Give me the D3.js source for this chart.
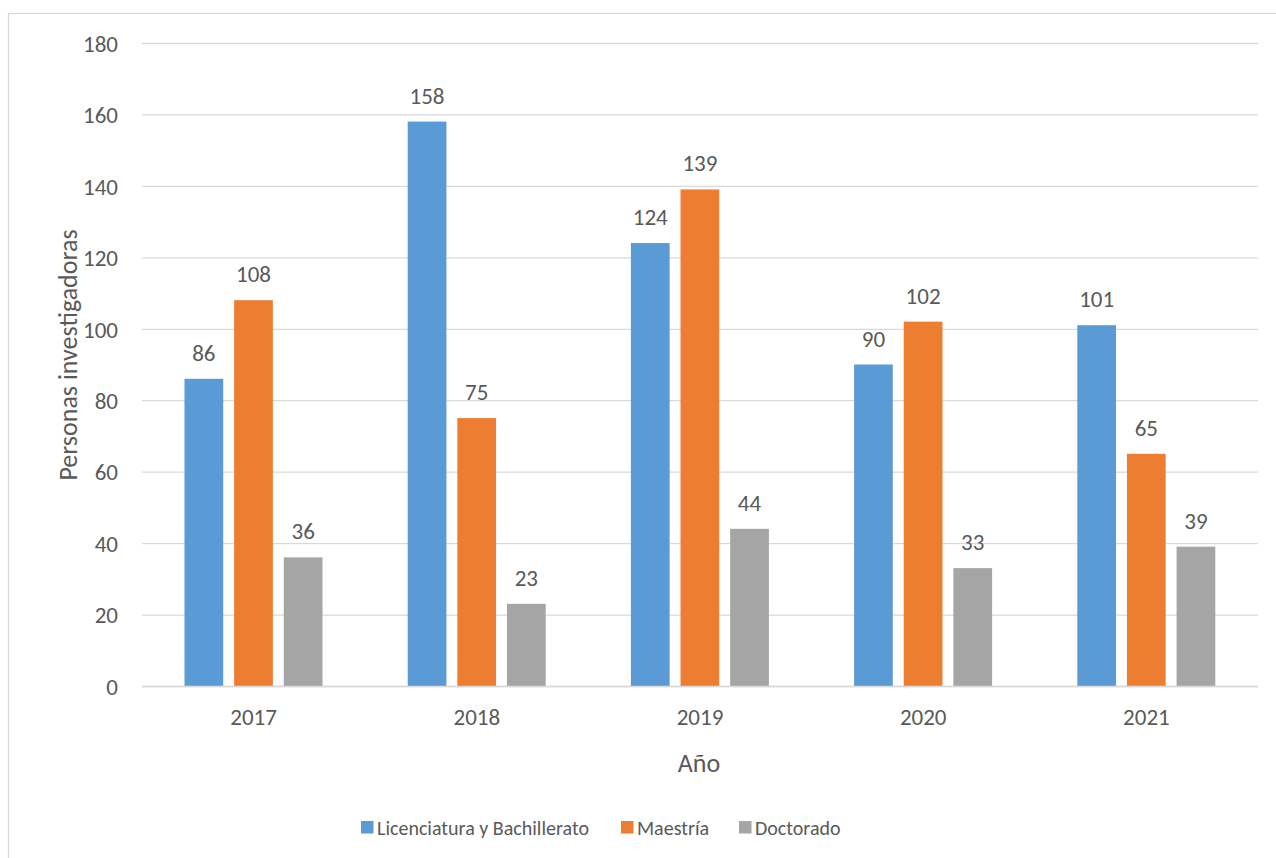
<!DOCTYPE html>
<html><head><meta charset="utf-8">
<script src="https://cdn.jsdelivr.net/npm/d3@7"></script>
<style>
html,body{margin:0;padding:0;background:#fff;}
text{font-family:Calibri,Carlito,Lato,"Open Sans",sans-serif;fill:#595959;}
</style></head>
<body>
<svg id="chart" width="1276" height="858"></svg>
<script>
const years = ["2017","2018","2019","2020","2021"];
const seriesNames = ["Licenciatura y Bachillerato","Maestría","Doctorado"];
const licenciatura = [86,158,124,90,101];
const maestria = [108,75,139,102,65];
const doctorado = [36,23,44,33,39];
const yTicks = [0,20,40,60,80,100,120,140,160,180];
const colors = ["#5B9BD5","#ED7D31","#A5A5A5"];
const seriesValues = [licenciatura, maestria, doctorado];

(function(){
const svg = d3.select("#chart");
const pLeft = 142, pRight = 1258, pTop = 43, pBottom = 686;
const fs = 23, fsTitle = 26, fsLegend = 20;

// frame
svg.append("rect").attr("x",8.5).attr("y",13.5).attr("width",1290).attr("height",900)
  .attr("fill","none").attr("stroke","#d9d9d9").attr("stroke-width",1.3);

const x0 = d3.scaleBand().domain(years).range([pLeft,pRight]).padding(0);
const x1 = d3.scaleBand().domain(seriesNames)
  .range([42.5, 180.5]).paddingInner(0.22).paddingOuter(0);
const y = d3.scaleLinear().domain([0,180]).range([pBottom,pTop]);

// gridlines
svg.append("g").selectAll("line").data(yTicks).join("line")
  .attr("x1",pLeft).attr("x2",pRight)
  .attr("y1",d=>y(d)+0.5).attr("y2",d=>y(d)+0.5)
  .attr("stroke","#d9d9d9").attr("stroke-width",1.3);

// y axis labels
const yAxis = d3.axisLeft(y).tickValues(yTicks).tickSize(0).tickPadding(0);
const yg = svg.append("g").attr("transform",`translate(${pLeft-24},0)`).call(yAxis);
yg.select(".domain").remove();
yg.attr("font-family",null).attr("font-size",null);
yg.selectAll("text").attr("font-size",fs).attr("fill","#595959").attr("dy","0.36em");

// bars
const groups = svg.append("g").selectAll("g").data(years).join("g")
  .attr("transform",d=>`translate(${x0(d)},0)`);
groups.each(function(yr,i){
  const g = d3.select(this);
  seriesNames.forEach((s,j)=>{
    const v = seriesValues[j][i];
    g.append("rect").attr("x",x1(s)).attr("width",x1.bandwidth())
      .attr("y",y(v)).attr("height",y(0)-y(v)).attr("fill",colors[j]);
    g.append("text").attr("x",x1(s)+x1.bandwidth()/2).attr("y",y(v)-18)
      .attr("text-anchor","middle").attr("font-size",fs).text(v);
  });
});

// x axis line
svg.append("line").attr("x1",pLeft).attr("x2",pRight).attr("y1",y(0)+0.5).attr("y2",y(0)+0.5)
  .attr("stroke","#d9d9d9").attr("stroke-width",1.5);

// x axis labels
const xAxis = d3.axisBottom(x0).tickSize(0).tickPadding(0);
const xg = svg.append("g").attr("transform",`translate(0,${pBottom})`).call(xAxis);
xg.select(".domain").remove();
xg.attr("font-family",null).attr("font-size",null);
xg.selectAll("text").attr("font-size",fs).attr("fill","#595959")
  .attr("y",38.5).attr("dy",0);

// axis titles
svg.append("text").attr("x",(pLeft+pRight)/2-1).attr("y",771.5).attr("text-anchor","middle")
  .attr("font-size",fsTitle).text("Año");
svg.append("text").attr("transform","translate(76.5,355) rotate(-90)").attr("text-anchor","middle")
  .attr("font-size",fsTitle).text("Personas investigadoras");

// legend
const legendX = [361,621,739];
const lg = svg.append("g");
seriesNames.forEach((s,j)=>{
  lg.append("rect").attr("x",legendX[j]).attr("y",821).attr("width",12.5).attr("height",12.5).attr("fill",colors[j]);
  lg.append("text").attr("x",legendX[j]+16).attr("y",834.5).attr("font-size",fsLegend).text(s);
});
})();
</script>
</body></html>
